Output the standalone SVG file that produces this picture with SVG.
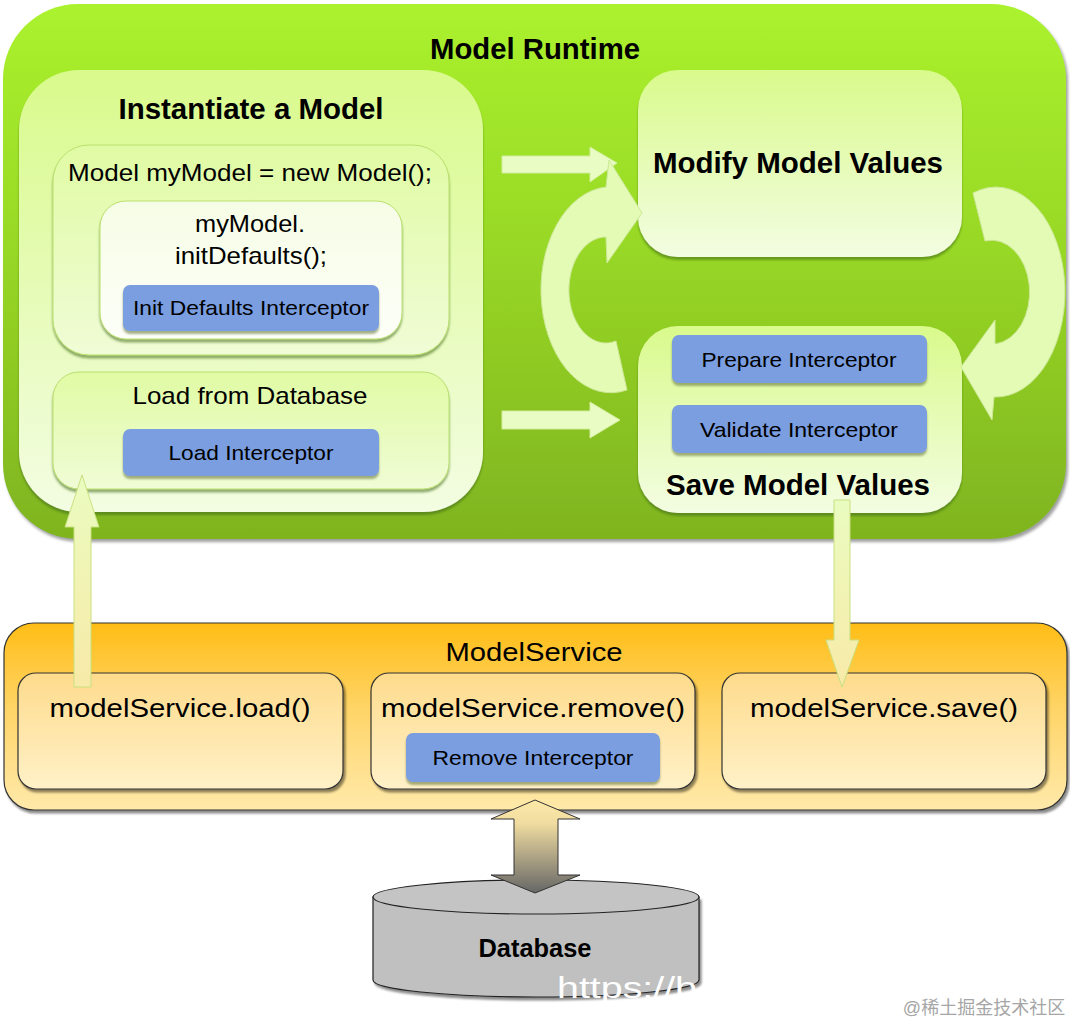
<svg xmlns="http://www.w3.org/2000/svg" width="1070" height="1024" viewBox="0 0 1070 1024">
<defs>
  <linearGradient id="gOuter" x1="0" y1="0" x2="0" y2="1">
    <stop offset="0" stop-color="#abf22e"/><stop offset="0.45" stop-color="#98d826"/><stop offset="1" stop-color="#7fb41f"/>
  </linearGradient>
  <linearGradient id="gInst" x1="0" y1="0" x2="0" y2="1">
    <stop offset="0" stop-color="#d9fa8c"/><stop offset="1" stop-color="#f3fde2"/>
  </linearGradient>
  <linearGradient id="gBox" x1="0" y1="0" x2="0" y2="1">
    <stop offset="0" stop-color="#e0fba4"/><stop offset="1" stop-color="#f0fcd6"/>
  </linearGradient>
  <linearGradient id="gWhite" x1="0" y1="0" x2="0" y2="1">
    <stop offset="0" stop-color="#f6fde6"/><stop offset="1" stop-color="#fdfff8"/>
  </linearGradient>
  <linearGradient id="gSvc" x1="0" y1="0" x2="0" y2="1">
    <stop offset="0" stop-color="#ffbd16"/><stop offset="0.45" stop-color="#ffd466"/><stop offset="1" stop-color="#ffe9aa"/>
  </linearGradient>
  <linearGradient id="gSub" x1="0" y1="0" x2="0" y2="1">
    <stop offset="0" stop-color="#fedb8c"/><stop offset="1" stop-color="#fff1c8"/>
  </linearGradient>
  <linearGradient id="gDb" x1="0" y1="0" x2="0" y2="1">
    <stop offset="0" stop-color="#fdeaa8"/><stop offset="0.25" stop-color="#f0dca0"/><stop offset="1" stop-color="#666666"/>
  </linearGradient>
  <linearGradient id="gUp" x1="0" y1="0" x2="0" y2="1">
    <stop offset="0" stop-color="#eafcc0"/><stop offset="1" stop-color="#f8eaa8"/>
  </linearGradient>
  <filter id="shOuter" x="-5%" y="-5%" width="110%" height="115%">
    <feDropShadow dx="2" dy="3" stdDeviation="1.5" flood-color="#777" flood-opacity="0.7"/>
  </filter>
  <filter id="shGreen" x="-5%" y="-5%" width="110%" height="115%">
    <feDropShadow dx="0" dy="3" stdDeviation="1" flood-color="#3d6b0a" flood-opacity="0.55"/>
  </filter>
  <filter id="shBlue" x="-5%" y="-10%" width="110%" height="130%">
    <feDropShadow dx="0" dy="3" stdDeviation="0.8" flood-color="#6a7a40" flood-opacity="0.6"/>
  </filter>
  <filter id="shDark" x="-5%" y="-10%" width="110%" height="125%">
    <feDropShadow dx="2" dy="3" stdDeviation="1.2" flood-color="#000" flood-opacity="0.45"/>
  </filter>
  <style>
    text { font-family: "Liberation Sans", Arial, sans-serif; fill: #000; text-anchor: middle; }
    .bold { font-weight: bold; font-size: 29px; }
    .reg { font-size: 24px; }
    .int { font-size: 21px; }
    .svc { font-size: 26px; }
    .blue { fill: #7a9ee0; filter: url(#shBlue); }
    .greenbox { stroke: #b9e06e; stroke-width: 1; filter: url(#shGreen); }
    .sub { fill: url(#gSub); stroke: #333; stroke-width: 1.2; filter: url(#shDark); }
    .flat { fill: #e8fcc4; stroke: #d4ee9e; stroke-width: 1; }
    .curve { fill: #e4fbb6; stroke: #cde896; stroke-width: 1; }
  </style>
</defs>

<g id="model-runtime">
  <rect x="3" y="4" width="1063" height="535" rx="75" fill="url(#gOuter)" filter="url(#shOuter)"/>
  <text class="bold" x="535" y="59" textLength="210" lengthAdjust="spacingAndGlyphs">Model Runtime</text>
</g>

<g id="instantiate">
  <rect x="19" y="70" width="464" height="442" rx="60" fill="url(#gInst)" filter="url(#shGreen)"/>
  <text class="bold" x="251" y="119" textLength="265" lengthAdjust="spacingAndGlyphs">Instantiate a Model</text>
</g>

<g id="new-model">
  <rect class="greenbox" x="53" y="145" width="396" height="210" rx="36" fill="url(#gBox)"/>
  <text class="reg" x="250" y="181" textLength="364" lengthAdjust="spacingAndGlyphs">Model myModel = new Model();</text>
</g>

<g id="init-defaults">
  <rect class="greenbox" x="100" y="201" width="302" height="138" rx="26" fill="url(#gWhite)"/>
  <text class="reg" x="250" y="232" textLength="110" lengthAdjust="spacingAndGlyphs">myModel.</text>
  <text class="reg" x="251" y="264" textLength="152" lengthAdjust="spacingAndGlyphs">initDefaults();</text>
</g>

<g id="init-defaults-interceptor">
  <rect class="blue" x="123" y="285" width="256" height="46" rx="7"/>
  <text class="int" x="251" y="315" textLength="236" lengthAdjust="spacingAndGlyphs">Init Defaults Interceptor</text>
</g>

<g id="load-from-db">
  <rect class="greenbox" x="53" y="372" width="396" height="117" rx="26" fill="url(#gBox)"/>
  <text class="reg" x="250" y="404" textLength="235" lengthAdjust="spacingAndGlyphs">Load from Database</text>
</g>

<g id="load-interceptor">
  <rect class="blue" x="123" y="429" width="256" height="47" rx="7"/>
  <text class="int" x="251" y="460" textLength="165" lengthAdjust="spacingAndGlyphs">Load Interceptor</text>
</g>

<g id="modify-values">
  <rect x="638" y="70" width="324" height="187" rx="40" fill="url(#gInst)" filter="url(#shGreen)"/>
  <text class="bold" x="798" y="173" textLength="290" lengthAdjust="spacingAndGlyphs">Modify Model Values</text>
</g>

<g id="save-values">
  <rect x="638" y="326" width="324" height="187" rx="40" fill="url(#gInst)" filter="url(#shGreen)"/>
  <text class="bold" x="798" y="495" textLength="264" lengthAdjust="spacingAndGlyphs">Save Model Values</text>
</g>

<g id="prepare-interceptor">
  <rect class="blue" x="672" y="335" width="255" height="48" rx="7"/>
  <text class="int" x="799" y="367" textLength="195" lengthAdjust="spacingAndGlyphs">Prepare Interceptor</text>
</g>

<g id="validate-interceptor">
  <rect class="blue" x="672" y="405" width="255" height="48" rx="7"/>
  <text class="int" x="799" y="437" textLength="198" lengthAdjust="spacingAndGlyphs">Validate Interceptor</text>
</g>

<g id="model-service">
  <rect x="4" y="623" width="1063" height="187" rx="30" fill="url(#gSvc)" stroke="#333" stroke-width="1.2" filter="url(#shDark)"/>
  <text class="svc" x="534" y="661" textLength="177" lengthAdjust="spacingAndGlyphs">ModelService</text>
</g>

<g id="service-load">
  <rect class="sub" x="18" y="673" width="325" height="116" rx="18"/>
  <text class="svc" x="180" y="717" textLength="261" lengthAdjust="spacingAndGlyphs">modelService.load()</text>
</g>

<g id="service-remove">
  <rect class="sub" x="371" y="673" width="324" height="116" rx="18"/>
  <text class="svc" x="533" y="717" textLength="304" lengthAdjust="spacingAndGlyphs">modelService.remove()</text>
</g>

<g id="remove-interceptor">
  <rect class="blue" x="406" y="733" width="254" height="49" rx="7"/>
  <text class="int" x="533" y="765" textLength="201" lengthAdjust="spacingAndGlyphs">Remove Interceptor</text>
</g>

<g id="service-save">
  <rect class="sub" x="722" y="673" width="324" height="116" rx="18"/>
  <text class="svc" x="884" y="717" textLength="268" lengthAdjust="spacingAndGlyphs">modelService.save()</text>
</g>

<g id="database">
  <path d="M373,897 L373,980 A163,17 0 0 0 699,980 L699,897 Z" fill="#c0c0c0" stroke="#222" stroke-width="1.2" filter="url(#shDark)"/>
  <ellipse cx="536" cy="897" rx="163" ry="17" fill="#c4c4c4" stroke="#222" stroke-width="1.2"/>
  <text x="535" y="957" font-weight="bold" font-size="25" textLength="113" lengthAdjust="spacingAndGlyphs">Database</text>
</g>

<g id="connectors">
  <polygon class="flat" points="502,156 590,156 590,147 617,163 590,182 590,173 502,173"/>
  <polygon class="flat" points="502,411 590,411 590,402 620,420 590,438 590,429 502,429"/>
  <path class="curve" d="M627,390 A70,103 0 1 1 606,187 L609,160 L642,213 L607,263 L606,237 A37,53 0 1 0 616,341 Z"/>
  <path class="curve" d="M973,193 A69,105 0 1 1 994,397 L992,420 L961,367 L995,320 L995,344 A38,52 0 1 0 985,241 Z"/>
  <polygon points="74,687 74,527 65,527 82,475 99,527 91,527 91,687" fill="url(#gUp)" stroke="#c8e080" stroke-width="1"/>
  <polygon points="834,500 850,500 850,640 859,640 842,687 826,640 834,640" fill="url(#gUp)" stroke="#c8e080" stroke-width="1"/>
  <polygon points="535,800 580,819 558,819 558,875 580,875 535,893 491,875 514,875 514,819 491,819" fill="url(#gDb)" stroke="#333" stroke-width="1"/>
</g>

<g id="watermark">
  <text x="557" y="998" font-size="30" fill="#ffffff" style="fill:#ffffff;text-anchor:start" textLength="140" lengthAdjust="spacingAndGlyphs">https://b</text>
  <text x="984" y="1014" font-size="18" style="fill:#a6a6a6;font-family:'Liberation Sans','Noto Sans CJK SC',sans-serif">@稀土掘金技术社区</text>
</g>
</svg>
